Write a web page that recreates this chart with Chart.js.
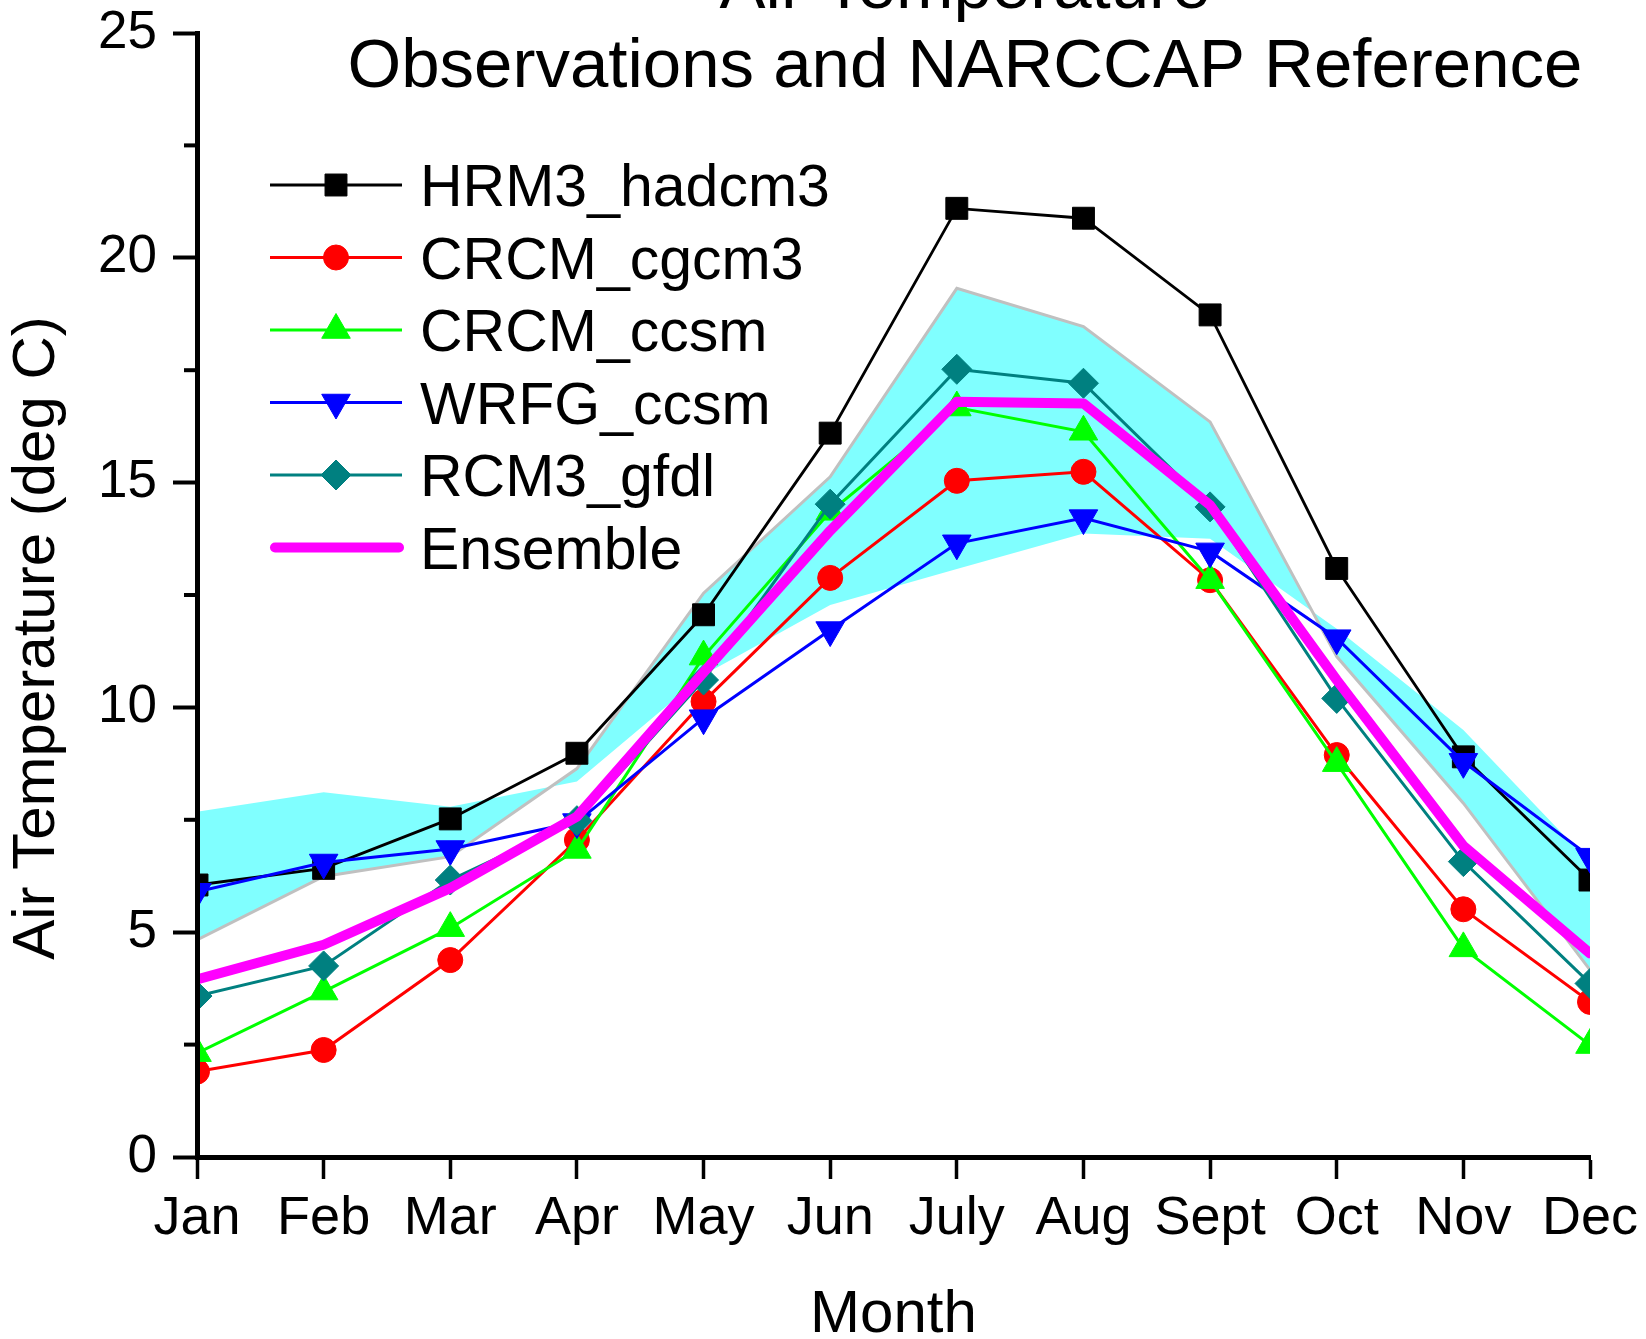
<!DOCTYPE html>
<html>
<head>
<meta charset="utf-8">
<title>Air Temperature - Observations and NARCCAP Reference</title>
<script src="https://cdn.jsdelivr.net/npm/chart.js@4.4.1/dist/chart.umd.min.js"></script>
<style>
  html, body { margin: 0; padding: 0; background: #ffffff; }
  #wrap { width: 1646px; height: 1339px; }
</style>
</head>
<body>
<div id="wrap"><canvas id="chart"></canvas></div>
<script>
// month categories and tick values
const months = ['Jan', 'Feb', 'Mar', 'Apr', 'May', 'Jun', 'July', 'Aug', 'Sept', 'Oct', 'Nov', 'Dec'];
const yMajorTicks = [0, 5, 10, 15, 20, 25];
const yMinorTicks = [2.5, 7.5, 12.5, 17.5, 22.5];

// model series (deg C)
const hrm3Hadcm3 = [6.05, 6.42, 7.52, 8.98, 12.06, 16.10, 21.10, 20.88, 18.73, 13.09, 8.90, 6.16];
const crcmCgcm3  = [1.90, 2.38, 4.38, 7.05, 10.13, 12.88, 15.04, 15.24, 12.83, 8.94, 5.51, 3.45];
const crcmCcsm   = [2.31, 3.68, 5.09, 6.83, 11.13, 14.35, 16.67, 16.13, 12.83, 8.76, 4.64, 2.49];
const wrfgCcsm   = [5.90, 6.55, 6.85, 7.45, 9.76, 11.72, 13.65, 14.21, 13.47, 11.54, 8.79, 6.68];
const rcm3Gfdl   = [3.58, 4.25, 6.16, 7.48, 10.61, 14.52, 17.52, 17.21, 14.46, 10.20, 6.57, 3.86];
const ensemble   = [3.95, 4.72, 5.98, 7.57, 10.78, 13.93, 16.80, 16.76, 14.50, 10.61, 6.92, 4.53];

// observation range (shaded band), two edges
const obsEdgeA = [4.83, 6.24, 6.68, 8.64, 12.54, 15.13, 19.32, 18.47, 16.35, 11.13, 7.87, 4.16];
const obsEdgeB = [7.68, 8.11, 7.79, 8.35, 10.72, 12.28, 13.08, 13.87, 13.75, 11.75, 9.50, 6.55];

const FONT = '"Liberation Sans", Arial, sans-serif';

function modelSet(label, data, color, style, radius, rotation, width, order) {
  return {
    label: label,
    data: data,
    borderColor: color,
    backgroundColor: color,
    borderWidth: width,
    pointStyle: style,
    pointRadius: radius,
    pointRotation: rotation,
    pointBackgroundColor: color,
    pointBorderColor: color,
    pointBorderWidth: 1,
    fill: false,
    tension: 0,
    clip: 0,
    order: order,
    inLegend: true
  };
}

const datasets = [
  modelSet('HRM3_hadcm3', hrm3Hadcm3, '#000000', 'rect', 15.5, 0, 2.8, 5),
  modelSet('CRCM_cgcm3', crcmCgcm3, '#ff0000', 'circle', 12.5, 0, 3, 4),
  modelSet('CRCM_ccsm', crcmCcsm, '#00ff00', 'triangle', 16.5, 0, 3, 3),
  modelSet('WRFG_ccsm', wrfgCcsm, '#0000ff', 'triangle', 16.5, 180, 3, 2),
  modelSet('RCM3_gfdl', rcm3Gfdl, '#008080', 'rectRot', 15, 0, 3, 1),
  {
    label: 'Ensemble',
    data: ensemble,
    borderColor: '#ff00ff',
    backgroundColor: '#ff00ff',
    borderWidth: 10,
    borderJoinStyle: 'round',
    borderCapStyle: 'round',
    pointRadius: 0,
    fill: false,
    tension: 0,
    clip: 0,
    order: 0,
    inLegend: true
  },
  {
    label: 'obs edge A',
    data: obsEdgeA,
    borderColor: '#c0c0c0',
    borderWidth: 3,
    backgroundColor: '#80ffff',
    pointRadius: 0,
    fill: '+1',
    tension: 0,
    clip: 0,
    order: 10
  },
  {
    label: 'obs edge B',
    data: obsEdgeB,
    borderColor: 'rgba(0,0,0,0)',
    borderWidth: 0,
    pointRadius: 0,
    fill: false,
    tension: 0,
    clip: 0,
    order: 11
  }
];

// title, legend, y-axis title and minor ticks drawn on top of the plot
const overlayPlugin = {
  id: 'overlay',
  afterDraw(chart) {
    const ctx = chart.ctx;
    const area = chart.chartArea;
    ctx.save();

    // minor ticks on y axis
    const yScale = chart.scales.y;
    ctx.strokeStyle = '#000000';
    ctx.lineWidth = 4;
    yMinorTicks.forEach(v => {
      const py = yScale.getPixelForValue(v);
      ctx.beginPath();
      ctx.moveTo(area.left - 13, py);
      ctx.lineTo(area.left, py);
      ctx.stroke();
    });

    // title (first line runs off the top edge)
    ctx.fillStyle = '#000000';
    ctx.font = '69px ' + FONT;
    ctx.textAlign = 'center';
    ctx.textBaseline = 'alphabetic';
    ctx.fillText('Air Temperature', 965, 8);
    ctx.fillText('Observations and NARCCAP Reference', 965, 87);

    // y-axis title
    ctx.save();
    ctx.font = '60px ' + FONT;
    ctx.translate(54, 638);
    ctx.rotate(-Math.PI / 2);
    ctx.textAlign = 'center';
    ctx.fillText('Air Temperature (deg C)', 0, 0);
    ctx.restore();

    // legend inside the plot
    ctx.font = '59px ' + FONT;
    ctx.textAlign = 'left';
    let baseY = 206;
    chart.data.datasets.forEach(ds => {
      if (!ds.inLegend) return;
      const midY = baseY - 21;
      const round = ds.borderCapStyle === 'round';
      ctx.strokeStyle = ds.borderColor;
      ctx.lineWidth = ds.borderWidth;
      ctx.lineCap = round ? 'round' : 'butt';
      ctx.beginPath();
      ctx.moveTo(round ? 275 : 270, midY);
      ctx.lineTo(round ? 399 : 402, midY);
      ctx.stroke();
      if (ds.pointRadius > 0) {
        ctx.fillStyle = ds.pointBackgroundColor;
        ctx.strokeStyle = ds.pointBorderColor;
        ctx.lineWidth = 1;
        Chart.helpers.drawPoint(ctx, {
          pointStyle: ds.pointStyle,
          rotation: ds.pointRotation,
          radius: ds.pointRadius,
          borderWidth: 1
        }, 336, midY);
      }
      ctx.fillStyle = '#000000';
      ctx.fillText(ds.label, 420, baseY);
      baseY += 72.5;
    });

    ctx.restore();
  }
};

new Chart(document.getElementById('chart'), {
  type: 'line',
  data: { labels: months, datasets: datasets },
  options: {
    responsive: true,
    maintainAspectRatio: false,
    animation: false,
    events: [],
    layout: { padding: { top: 33, right: 56, left: 0, bottom: 0 } },
    plugins: {
      legend: { display: false },
      title: { display: false },
      tooltip: { enabled: false }
    },
    scales: {
      x: {
        type: 'category',
        offset: false,
        afterFit: scale => {
          scale.height = 182;
          scale.paddingLeft = 0;
          scale.paddingRight = 0;
        },
        border: { display: true, color: '#000000', width: 5, z: 1 },
        grid: {
          drawOnChartArea: false,
          drawTicks: true,
          tickLength: 22,
          tickWidth: 3.5,
          tickColor: '#000000',
          z: 1
        },
        ticks: {
          color: '#000000',
          font: { family: FONT, size: 54 },
          padding: 8,
          autoSkip: false,
          maxRotation: 0,
          minRotation: 0
        },
        title: {
          display: true,
          text: 'Month',
          color: '#000000',
          font: { family: FONT, size: 60 },
          padding: { top: 0, bottom: -12 }
        }
      },
      y: {
        min: 0,
        max: 25,
        afterFit: scale => {
          scale.width = 197;
          scale.paddingTop = 0;
          scale.paddingBottom = 0;
        },
        afterBuildTicks: scale => { scale.ticks = yMajorTicks.map(v => ({ value: v })); },
        border: { display: true, color: '#000000', width: 5, z: 1 },
        grid: {
          drawOnChartArea: false,
          drawTicks: true,
          tickLength: 24,
          tickWidth: 4,
          tickColor: '#000000',
          z: 1
        },
        ticks: {
          color: '#000000',
          font: { family: FONT, size: 53 },
          padding: 16
        }
      }
    }
  },
  plugins: [overlayPlugin]
});
</script>
</body>
</html>
